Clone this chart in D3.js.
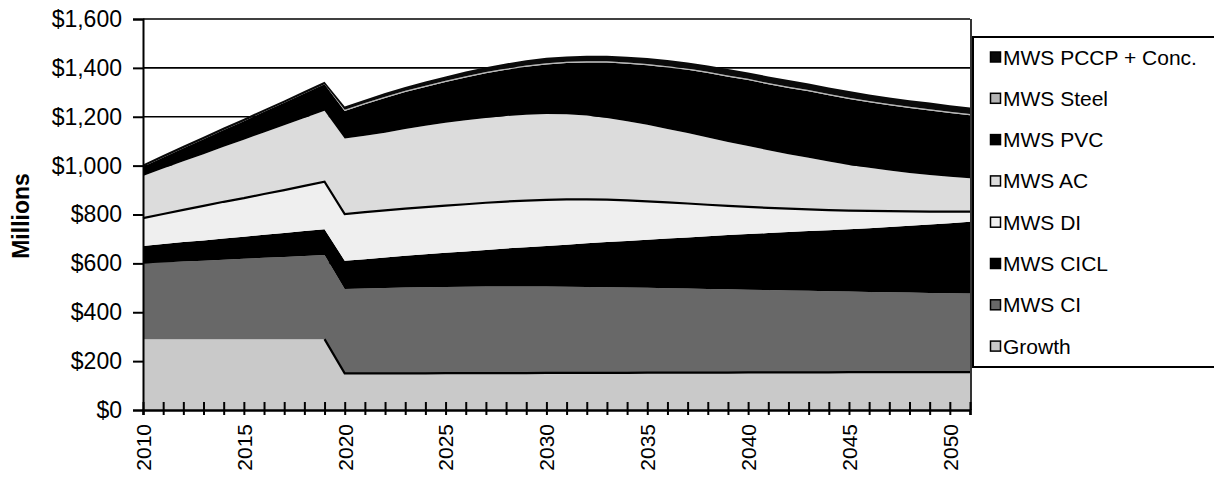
<!DOCTYPE html>
<html>
<head>
<meta charset="utf-8">
<script src="https://cdn.jsdelivr.net/npm/d3@7"></script>
<style>
  body { margin: 0; background: #fff; }
  svg { display: block; font-family: "Liberation Sans", Arial, sans-serif; }
  .axis text { fill: #000; }
</style>
</head>
<body>
<div class="chart"></div>
<script>
var svgWidth = 1214;
var svgHeight = 479;

// categories
var years = [2010, 2011, 2012, 2013, 2014, 2015, 2016, 2017, 2018, 2019,
  2020, 2021, 2022, 2023, 2024, 2025, 2026, 2027, 2028, 2029,
  2030, 2031, 2032, 2033, 2034, 2035, 2036, 2037, 2038, 2039,
  2040, 2041, 2042, 2043, 2044, 2045, 2046, 2047, 2048, 2049,
  2050, 2051];

// series values, $ millions per year
var growth = [290, 290, 290, 290, 290, 290, 290, 290, 290, 290,
  150, 150, 150, 150, 150, 151, 151, 151, 151, 151,
  152, 152, 152, 152, 152, 153, 153, 153, 153, 153,
  154, 154, 154, 154, 154, 155, 155, 155, 155, 155,
  155, 155];
var mwsCI = [310, 314, 318, 321, 325, 329, 333, 336, 340, 344,
  345, 347, 349, 351, 352, 352, 353, 354, 354, 354,
  353, 352, 351, 350, 349, 347, 345, 344, 342, 341,
  338, 337, 335, 334, 332, 330, 328, 327, 326, 324,
  323, 322];
var mwsCICL = [71, 75, 79, 83, 87, 90, 94, 98, 102, 106,
  116, 120, 125, 130, 135, 140, 145, 150, 156, 161,
  166, 172, 179, 185, 191, 197, 204, 209, 216, 222,
  228, 233, 239, 244, 250, 255, 261, 267, 273, 280,
  286, 293];
var mwsDI = [114, 123, 132, 141, 150, 158, 167, 176, 185, 194,
  191, 193, 193, 193, 193, 193, 193, 193, 192, 191,
  189, 186, 180, 174, 166, 157, 148, 139, 129, 119,
  111, 103, 96, 89, 82, 76, 71, 65, 59, 53,
  48, 42];
var mwsAC = [173, 186, 199, 212, 225, 239, 252, 265, 278, 291,
  309, 312, 318, 326, 333, 339, 344, 347, 350, 351,
  351, 348, 343, 334, 324, 313, 300, 288, 275, 262,
  249, 236, 223, 211, 199, 187, 176, 166, 157, 150,
  142, 136];
var mwsPVC = [37, 45, 53, 61, 69, 76, 84, 92, 100, 108,
  113, 129, 142, 151, 159, 167, 175, 183, 189, 197,
  203, 210, 217, 227, 235, 244, 252, 259, 264, 267,
  270, 270, 271, 272, 271, 270, 268, 267, 266, 264,
  261, 258];
var mwsSteel = [0, 0, 0, 0, 0, 0, 0, 0, 0, 0,
  5, 5, 5, 5, 5, 5, 5, 5, 5, 5,
  5, 5, 5, 5, 5, 5, 5, 5, 5, 5,
  5, 5, 5, 5, 5, 5, 5, 5, 5, 5,
  5, 5];
var mwsPCCP = [10, 10, 10, 10, 10, 10, 10, 10, 10, 10,
  13, 14, 15, 16, 17, 18, 19, 20, 21, 21,
  22, 22, 23, 23, 24, 24, 25, 25, 26, 26,
  26, 27, 27, 27, 27, 27, 27, 27, 27, 27,
  27, 27];

var yTicks = [0, 200, 400, 600, 800, 1000, 1200, 1400, 1600];

// stacking order bottom -> top
var seriesList = [
  { key: "growth", name: "Growth", values: growth, fill: "#c9c9c9" },
  { key: "ci", name: "MWS CI", values: mwsCI, fill: "#686868" },
  { key: "cicl", name: "MWS CICL", values: mwsCICL, fill: "#000" },
  { key: "di", name: "MWS DI", values: mwsDI, fill: "#efefef" },
  { key: "ac", name: "MWS AC", values: mwsAC, fill: "#dcdcdc" },
  { key: "pvc", name: "MWS PVC", values: mwsPVC, fill: "#000" },
  { key: "steel", name: "MWS Steel", values: mwsSteel, fill: "#b4b4b4" },
  { key: "pccp", name: "MWS PCCP + Conc.", values: mwsPCCP, fill: "#0a0a0a" }
];

var margin = { top: 19, left: 143 };
var plotRight = 970;
var plotBottom = 410;

var table = years.map(function(yr, i) {
  var row = { year: yr };
  seriesList.forEach(function(s) { row[s.key] = s.values[i]; });
  return row;
});

var stack = d3.stack().keys(seriesList.map(s => s.key));
var layers = stack(table);

var x = d3.scaleLinear()
  .domain([2010, 2051])
  .range([margin.left, plotRight]);
var y = d3.scaleLinear()
  .domain([0, 1600])
  .range([plotBottom, margin.top]);

var svg = d3.select(".chart")
  .append("svg")
  .attr("width", svgWidth)
  .attr("height", svgHeight);

// gridlines
svg.append("g")
  .selectAll("line")
  .data(yTicks.filter(d => d > 0))
  .enter()
  .append("line")
  .attr("x1", margin.left)
  .attr("x2", plotRight)
  .attr("y1", d => y(d))
  .attr("y2", d => y(d))
  .attr("stroke", "#000")
  .attr("stroke-width", 1.6);

var area = d3.area()
  .x(d => x(d.data.year))
  .y0(d => y(d[0]))
  .y1(d => y(d[1]));

svg.append("g")
  .selectAll("path")
  .data(layers)
  .enter()
  .append("path")
  .attr("d", area)
  .attr("fill", (d, i) => seriesList[i].fill);

// black edge lines seen on the chart
var topLine = d3.line()
  .x(d => x(d.data.year))
  .y(d => y(d[1]));

svg.append("path")
  .attr("d", topLine(layers[3]))
  .attr("fill", "none")
  .attr("stroke", "#000")
  .attr("stroke-width", 2.2);

svg.append("path")
  .attr("d", topLine(layers[0].slice(9)))
  .attr("fill", "none")
  .attr("stroke", "#000")
  .attr("stroke-width", 2.2);

// right border of plot area
svg.append("line")
  .attr("x1", plotRight + 1)
  .attr("x2", plotRight + 1)
  .attr("y1", margin.top)
  .attr("y2", plotBottom)
  .attr("stroke", "#000")
  .attr("stroke-width", 1.6);

// axes
var leftAxis = d3.axisLeft(y)
  .tickValues(yTicks)
  .tickSize(10)
  .tickPadding(11)
  .tickFormat(d => "$" + d3.format(",")(d));

var yAxisG = svg.append("g")
  .attr("class", "axis")
  .attr("transform", `translate(${margin.left}, 0)`)
  .call(leftAxis);
yAxisG.selectAll("text").style("font-size", "23px");
yAxisG.selectAll("line, path").attr("stroke", "#000").attr("stroke-width", 2);

var bottomAxis = d3.axisBottom(x)
  .tickValues(years)
  .tickSize(5)
  .tickFormat(d => d % 5 === 0 ? d : "");

var xAxisG = svg.append("g")
  .attr("class", "axis")
  .attr("transform", `translate(0, ${plotBottom})`)
  .call(bottomAxis);
xAxisG.select(".domain").attr("stroke", "#000").attr("stroke-width", 2.4);
xAxisG.selectAll(".tick line")
  .attr("y1", -8)
  .attr("stroke", "#000")
  .attr("stroke-width", 2);
xAxisG.selectAll("text")
  .attr("y", 0)
  .attr("x", -14)
  .attr("dy", "0.35em")
  .attr("transform", "rotate(-90)")
  .style("text-anchor", "end")
  .style("font-size", "21px");

svg.append("text")
  .attr("transform", "translate(29, 216) rotate(-90)")
  .attr("text-anchor", "middle")
  .style("font-size", "23px")
  .style("font-weight", "bold")
  .text("Millions");

// legend
var legend = svg.append("g")
  .attr("transform", "translate(973, 37)");

legend.append("rect")
  .attr("width", 300)
  .attr("height", 330)
  .attr("fill", "#fff")
  .attr("stroke", "#000")
  .attr("stroke-width", 2);

var legendItems = legend.selectAll(".item")
  .data(seriesList.slice().reverse())
  .enter()
  .append("g")
  .attr("class", "item")
  .attr("transform", (d, i) => `translate(0, ${20 + i * 41.3})`);

legendItems.append("rect")
  .attr("x", 17.5)
  .attr("y", -5)
  .attr("width", 10)
  .attr("height", 10)
  .attr("fill", d => d.fill)
  .attr("stroke", "#000")
  .attr("stroke-width", 1.5);

legendItems.append("text")
  .attr("x", 30)
  .attr("dy", "0.36em")
  .style("font-size", "21px")
  .text(d => d.name);
</script>
</body>
</html>
